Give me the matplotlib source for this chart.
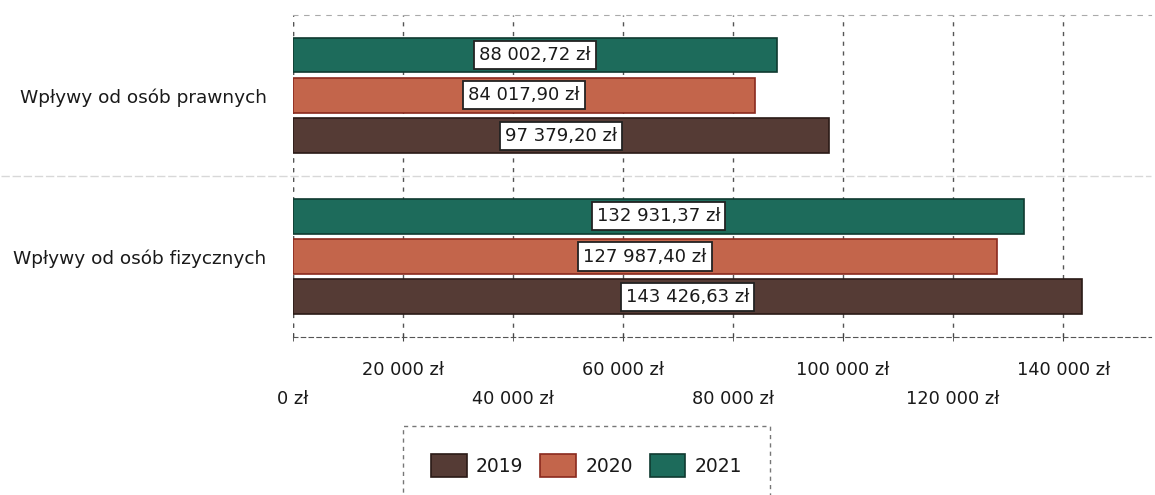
import numpy as np
import matplotlib
matplotlib.use("Agg")
import matplotlib.pyplot as plt

categories = ["Wpływy od osób prawnych", "Wpływy od osób fizycznych"]
years = ["2019", "2020", "2021"]
v2019 = [97379.20, 143426.63]
v2020 = [84017.90, 127987.40]
v2021 = [88002.72, 132931.37]
ticks = [0, 20000, 40000, 60000, 80000, 100000, 120000, 140000]

colors = {"2019": "#553b35", "2020": "#c3654b", "2021": "#1d6b5b"}
edges = {"2019": "#2a1a16", "2020": "#8a2a1e", "2021": "#0f3a30"}

def pln(v, dec=2):
    s = f"{v:,.{dec}f}".replace(",", " ").replace(".", ",")
    return s + " zł"

plt.rcParams["font.family"] = ["DejaVu Sans"]
fig = plt.figure(figsize=(11.55, 4.95), dpi=100)
ax = fig.add_axes([0.2537, 0.319, 0.743, 0.651])

y = np.arange(len(categories))
h = 0.215
offs = {"2021": -0.25, "2020": 0.0, "2019": 0.25}
series = {"2019": v2019, "2020": v2020, "2021": v2021}
for yr in years:
    vals = series[yr]
    ax.barh(y + offs[yr], vals, height=h, color=colors[yr], edgecolor=edges[yr],
            linewidth=1.2, label=yr, zorder=3)
    for yi, v in zip(y, vals):
        ax.text(v / 2, yi + offs[yr], pln(v), ha="center", va="center",
                fontsize=13, color="#1a1a1a", zorder=5,
                bbox=dict(boxstyle="square,pad=0.28", fc="white", ec="#222222", lw=1.3))

ax.set_xlim(0, 156000)
ax.set_ylim(1.5, -0.5)
ax.set_yticks(y, categories)
ax.tick_params(axis="y", length=0, pad=19, labelsize=13.3, labelcolor="#1a1a1a")

upper = ticks[1::2]
lower = ticks[0::2]
ax.set_xticks(upper, [pln(t, 0) for t in upper])
ax.set_xticks(lower, [pln(t, 0) for t in lower], minor=True)
ax.tick_params(axis="x", which="major", length=6, pad=14, labelsize=12.8,
               labelcolor="#1a1a1a", color="#444444", direction="inout")
ax.tick_params(axis="x", which="minor", length=6, pad=35, labelsize=12.8,
               labelcolor="#1a1a1a", color="#444444", direction="inout")

ax.grid(axis="x", which="both", color="#555555", linestyle=(0, (3, 4)), linewidth=1, zorder=0)
for s in ["left", "right"]:
    ax.spines[s].set_visible(False)
ax.spines["top"].set_linestyle((0, (4, 6)))
ax.spines["top"].set_color("#aaaaaa")
ax.spines["bottom"].set_linestyle((0, (4, 3)))
ax.spines["bottom"].set_color("#555555")
ax.axvline(0, color="#555555", linestyle=(0, (3, 4)), linewidth=1, zorder=1)

# faint separator across the row boundary
ax.plot([-0.34, 1.0], [0.5, 0.5], transform=ax.get_yaxis_transform(),
        color="#d8d8d8", linewidth=1, linestyle=(0, (6, 2)), clip_on=False, zorder=1)

leg = fig.legend(loc="upper center", bbox_to_anchor=(0.508, 0.158), ncol=3,
                 fontsize=13.5, frameon=True, fancybox=False, handlelength=1.9,
                 handleheight=1.5, columnspacing=0.9, handletextpad=0.5,
                 borderpad=1.5)
leg.get_frame().set_edgecolor("#555555")
leg.get_frame().set_linestyle((0, (3, 3)))
for t in leg.get_texts():
    t.set_color("#1a1a1a")

fig.savefig("out.png", dpi=100)
